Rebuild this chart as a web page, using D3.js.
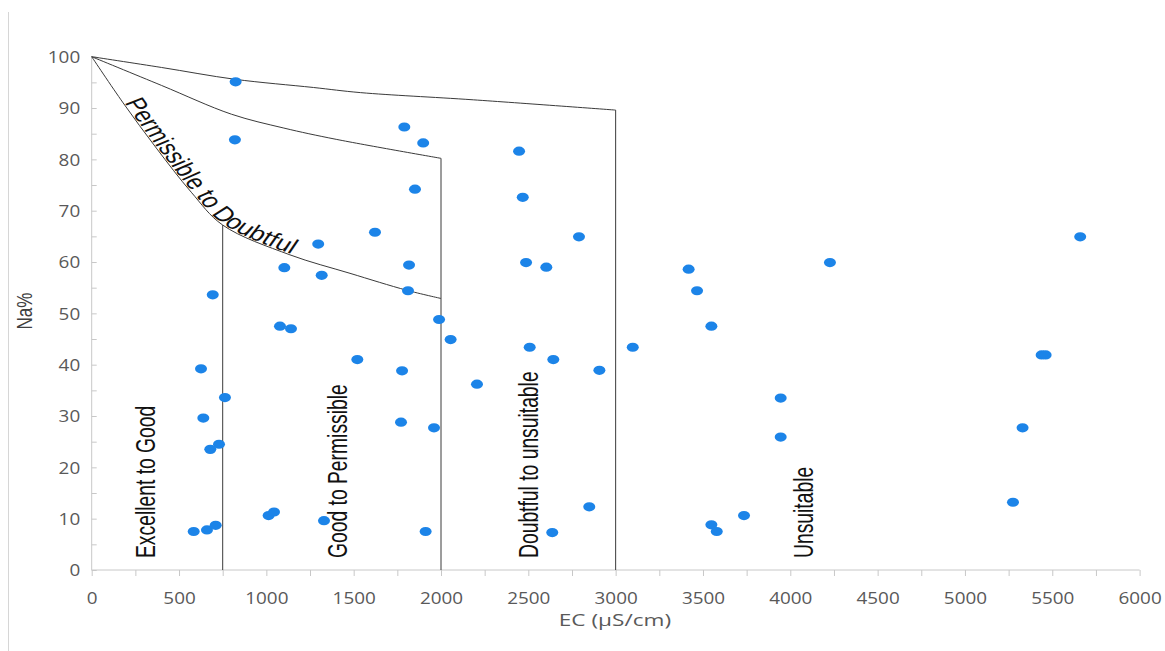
<!DOCTYPE html>
<html>
<head>
<meta charset="utf-8">
<script src="https://cdn.jsdelivr.net/npm/d3@7"></script>
<style>
  html, body { margin: 0; padding: 0; background: #fff; }
  svg { display: block; }
</style>
</head>
<body>
<svg id="chart" width="1165" height="651"></svg>
<script>
// Wilcox diagram: sodium percentage against electrical conductivity

// Sample electrical conductivity (µS/cm)
const ecValues = [
  824, 820, 1790, 1898, 1851, 1622, 1297, 1103, 1317, 1817,
  1811, 693, 1989, 1078, 1141, 2055, 626, 1521, 1777, 763,
  639, 1771, 1960, 679, 729, 584, 660, 710, 1013, 1044,
  1330, 1912, 2447, 2468, 2790, 2487, 2603, 3418, 3466, 3548,
  2508, 3098, 2643, 2907, 2206, 3945, 3945, 2849, 2637, 3735,
  3548, 3579, 4227, 5660, 5439, 5462, 5330, 5275
];
// Sample sodium percentage (Na%)
const naValues = [
  95.1, 83.8, 86.3, 83.2, 74.2, 65.8, 63.5, 58.9, 57.4, 59.4,
  54.4, 53.6, 48.8, 47.5, 47.0, 44.9, 39.2, 41.0, 38.8, 33.6,
  29.6, 28.8, 27.7, 23.5, 24.5, 7.5, 7.8, 8.7, 10.6, 11.3,
  9.6, 7.5, 81.6, 72.6, 64.9, 59.9, 59.0, 58.6, 54.4, 47.5,
  43.4, 43.4, 41.0, 38.9, 36.2, 33.5, 25.9, 12.3, 7.3, 10.6,
  8.8, 7.5, 59.9, 64.9, 41.9, 41.9, 27.7, 13.2
];

// Class boundary curves [EC, Na%]
const outerBoundary = [[0, 100], [400, 97.9], [820, 95.6], [1270, 94.0], [1540, 93.0], [2185, 91.6], [3000, 89.6]];
const middleBoundary = [[0, 100], [400, 94.4], [800, 88.8], [1100, 86.1], [1400, 83.9], [2000, 80.2]];
const innerBoundary = [[0, 100], [180, 91.0], [370, 82.2], [570, 73.6], [750, 67.2], [1135, 61.4], [1479, 57.8], [1804, 54.5], [2000, 52.9]];
// Vertical class limits [EC, top Na%]
const verticalLimits = [[750, 67.2], [2000, 80.2], [3000, 89.6]];

// Region names and the text baseline position for each
const regionLabels = ["Excellent to Good", "Good to Permissible", "Doubtful to unsuitable", "Unsuitable"];
const curveLabel = "Permissible to Doubtful";

const xTicks = d3.range(0, 6001, 500);
const xMinorTicks = d3.range(0, 6001, 250);
const yTicks = d3.range(0, 101, 10);
const yMinorTicks = d3.range(0, 101, 5);

const svg = d3.select("#chart");
const x = d3.scaleLinear().domain([0, 6000]).range([91.7, 1139.6]);
const y = d3.scaleLinear().domain([0, 100]).range([570, 56.7]);
const stretch = 1.35;
const labelFont = "'Open Sans', 'DejaVu Sans', sans-serif";
const textFont = "'Liberation Sans', Arial, sans-serif";

// page frame edge
svg.append("line").attr("x1", 8.5).attr("x2", 8.5).attr("y1", 12).attr("y2", 651)
  .attr("stroke", "#d6d6d6").attr("stroke-width", 1);

// axes
const axisColor = "#c8c8c8";
const xAxis = svg.append("g").attr("transform", `translate(0,${y(0)})`)
  .call(d3.axisBottom(x).tickValues(xMinorTicks).tickSize(6).tickFormat(""));
xAxis.select(".domain").attr("stroke", axisColor).attr("d", `M${x(0)},0H${x(6000)}`);
xAxis.selectAll(".tick line").attr("stroke", axisColor);

const xLabels = svg.append("g").attr("transform", `translate(0,${y(0)})`)
  .call(d3.axisBottom(x).tickValues(xTicks).tickSize(0).tickPadding(0).tickFormat(d3.format("d")));
xLabels.select(".domain").remove();
xLabels.selectAll(".tick text")
  .attr("y", 0).attr("dy", 0)
  .attr("transform", `translate(0,34) scale(1.18,1)`)
  .attr("fill", "#595959").style("font-size", "16px").style("font-family", labelFont);

const yAxis = svg.append("g").attr("transform", `translate(${x(0)},0)`)
  .call(d3.axisRight(y).tickValues(yMinorTicks).tickSize(5).tickFormat(""));
yAxis.select(".domain").attr("stroke", axisColor).attr("d", `M0,${y(0)}V${y(100)}`);
yAxis.selectAll(".tick line").attr("stroke", axisColor);

const yLabels = svg.append("g").attr("transform", `translate(${x(0)},0)`)
  .call(d3.axisLeft(y).tickValues(yTicks).tickSize(0).tickPadding(0).tickFormat(d3.format("d")));
yLabels.select(".domain").remove();
yLabels.selectAll(".tick text")
  .attr("x", 0).attr("dy", "0.36em")
  .attr("transform", `translate(-11.5,0) scale(1.18,1)`)
  .attr("fill", "#595959").style("font-size", "16px").style("font-family", labelFont);

// axis titles
svg.append("text")
  .attr("transform", `translate(615,626) scale(1.33,1)`)
  .attr("text-anchor", "middle")
  .attr("fill", "#595959").style("font-size", "17px").style("font-family", labelFont)
  .text("EC (µS/cm)");
svg.append("text")
  .attr("transform", `translate(32,311) scale(1.25,1) rotate(-90)`)
  .attr("text-anchor", "middle")
  .attr("fill", "#404040").style("font-size", "17px").style("font-family", textFont)
  .text("Na%");

// class boundaries
const line = d3.line().x(d => x(d[0])).y(d => y(d[1])).curve(d3.curveCatmullRom.alpha(0.5));
const boundaryStyle = sel => sel.attr("fill", "none").attr("stroke", "#3a3a3a").attr("stroke-width", 1);
svg.append("path").attr("d", line(outerBoundary)).call(boundaryStyle);
svg.append("path").attr("d", line(middleBoundary)).call(boundaryStyle);
svg.append("path").attr("d", line(innerBoundary)).call(boundaryStyle);
svg.selectAll("line.limit").data(verticalLimits).join("line").attr("class", "limit")
  .attr("x1", d => x(d[0])).attr("x2", d => x(d[0]))
  .attr("y1", d => y(d[1])).attr("y2", y(0))
  .attr("stroke", "#3a3a3a").attr("stroke-width", 1);

// curved label riding on the inner boundary (laid out in a narrowed frame, then widened)
const narrowLine = d3.line().x(d => x(d[0]) / stretch).y(d => y(d[1])).curve(d3.curveCatmullRom.alpha(0.5));
const stretched = svg.append("g").attr("transform", `scale(${stretch},1)`);
const guide = stretched.append("path").attr("id", "inner-guide")
  .attr("d", narrowLine(innerBoundary)).attr("fill", "none").attr("stroke", "none");
const guideNode = guide.node();
const total = guideNode.getTotalLength();
function lengthAtX(px) {
  let lo = 0, hi = total;
  for (let i = 0; i < 40; i++) {
    const mid = (lo + hi) / 2;
    if (guideNode.getPointAtLength(mid).x < px) lo = mid; else hi = mid;
  }
  return (lo + hi) / 2;
}
const startLen = lengthAtX(x(180) / stretch);
const endLen = lengthAtX(x(1140) / stretch);
stretched.append("text")
  .attr("dy", -1)
  .attr("fill", "#111").style("font-size", "21px").style("font-family", textFont)
  .append("textPath").attr("href", "#inner-guide")
  .attr("startOffset", startLen)
  .attr("textLength", endLen - startLen).attr("lengthAdjust", "spacingAndGlyphs")
  .text(curveLabel);

// vertical region names
const labelBaselineX = [155, 347, 538, 813];
svg.selectAll("text.region").data(regionLabels).join("text").attr("class", "region")
  .attr("transform", (d, i) => `translate(${labelBaselineX[i]},558) scale(1.4,1) rotate(-90)`)
  .attr("fill", "#111").style("font-size", "19.3px").style("font-family", textFont)
  .text(d => d);

// samples
const samples = ecValues.map((ec, i) => ({ ec, na: naValues[i] }));
svg.selectAll("ellipse.sample").data(samples).join("ellipse").attr("class", "sample")
  .attr("cx", d => x(d.ec)).attr("cy", d => y(d.na))
  .attr("rx", 6).attr("ry", 4.6)
  .attr("fill", "#1c84e8");
</script>
</body>
</html>
